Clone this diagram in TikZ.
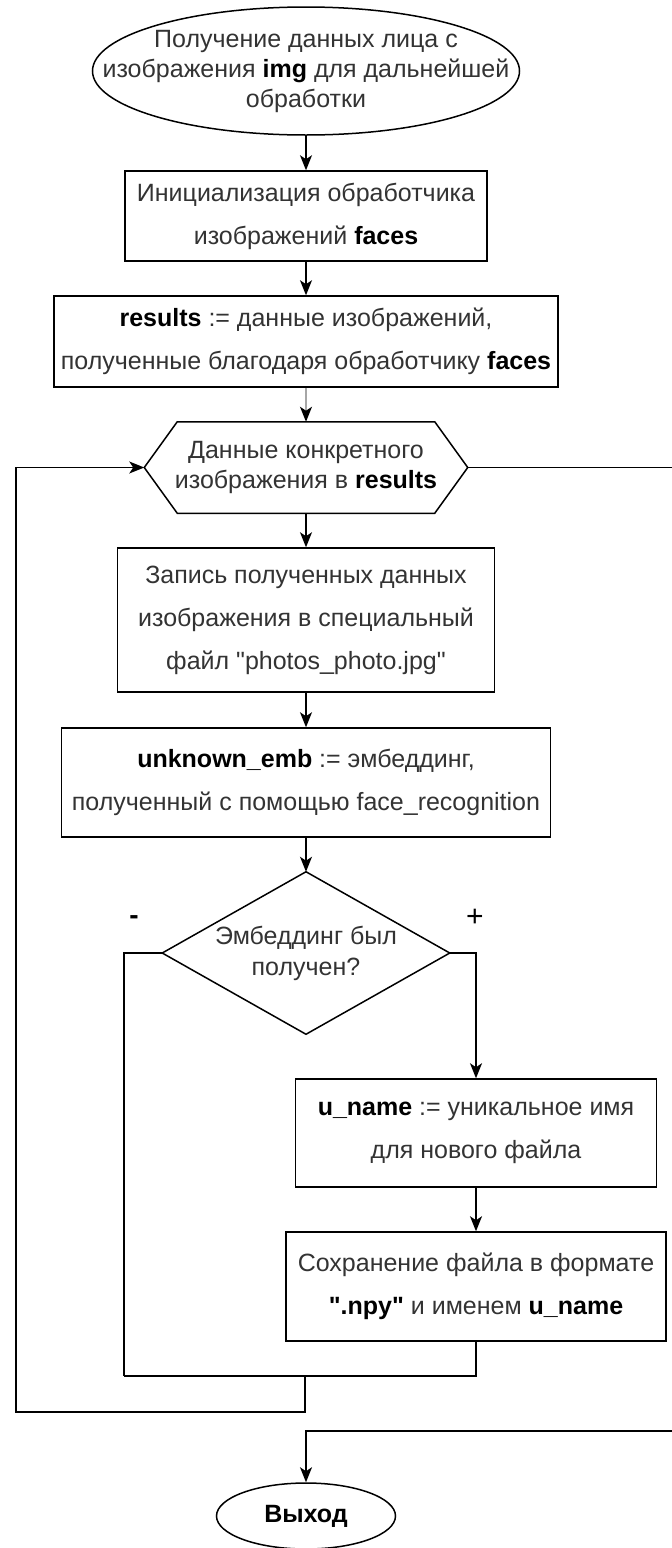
\documentclass[tikz,border=0pt]{standalone}
\usepackage{fontspec}
\setmainfont{Liberation Sans}[Ligatures=TeXOff]
\usepackage{tikz}
\usetikzlibrary{arrows.meta}

\begin{document}
\begin{tikzpicture}[x=1pt, y=-1pt, line width=1.5pt, >={Stealth[length=15pt, width=12pt, inset=4pt]},
	textonly/.style={rectangle, text=black!80, inner sep=0pt, align=center, font=\fontsize{25}{30}\selectfont},
	box/.style={rectangle, draw=black, text=black!80, inner sep=0pt, align=center, font=\fontsize{25}{43}\selectfont}]
	
	\useasboundingbox (0, 0) rectangle (672, 1548);
	
	% Blocks
	\node[textonly, minimum width=427pt, minimum height=128pt] (start) at (306, 71) {Получение данных лица с\\изображения \textbf{\color{black}img} для дальнейшей\\обработки};
	\draw (start.center) ellipse [x radius=213.5, y radius=64];
	\node[box, minimum width=362pt, minimum height=90pt] (init) at (306, 216) {Инициализация обработчика\\изображений \textbf{\color{black}faces}};
	\node[box, minimum width=504pt, minimum height=91pt] (res) at (306, 341.5) {\textbf{\color{black}results} := данные изображений,\\полученные благодаря обработчику \textbf{\color{black}faces}};
	\node[textonly, minimum width=322pt, minimum height=90pt] (loop) at (306, 467.5) {Данные конкретного\\изображения в \textbf{\color{black}results}};
	\draw (loop.west) -- ([xshift=33pt]loop.north west) -- ([xshift=-33pt]loop.north east) -- (loop.east) -- ([xshift=-33pt]loop.south east) -- ([xshift=33pt]loop.south west) -- cycle;
	\node[box, minimum width=377pt, minimum height=144pt] (write) at (306, 620) {Запись полученных данных\\изображения в специальный\\файл "photos\_photo.jpg"};
	\node[box, minimum width=489pt, minimum height=109pt] (emb) at (306, 782.5) {\textbf{\color{black}unknown\_emb} := эмбеддинг,\\полученный с помощью face\_recognition};
	\node[textonly, minimum width=286pt, minimum height=161pt, font=\fontsize{25}{31}\selectfont] (check) at (306, 953) {Эмбеддинг был\\получен?};
	\draw (check.west) -- (check.north) -- (check.east) -- (check.south) -- cycle;
	\node[box, minimum width=361pt, minimum height=108pt] (uname) at (476, 1133) {\textbf{\color{black}u\_name} := уникальное имя\\для нового файла};
	\node[box, minimum width=380pt, minimum height=109pt] (save) at (476, 1286.5) {Сохранение файла в формате\\\textbf{\color{black}".npy"} и именем \textbf{\color{black}u\_name}};
	\node[textonly, minimum width=179pt, minimum height=66pt] (exit) at (306, 1516) {\textbf{\color{black}Выход}};
	\draw (exit.center) ellipse [x radius=89.5, y radius=33];
	
	% Branch labels
	\node[font=\fontsize{28}{30}\selectfont\bfseries] (minus) at (134, 920) {-};
	\node[font=\fontsize{30}{30}\selectfont] (plus) at (475, 918) {+};
	
	% Points of the loop
	\coordinate (nojoin) at (124, 1376);
	\coordinate (merge) at (305, 1376);
	\coordinate (back) at (16, 1412);
	\coordinate (out) at (676, 1431);
	
	% Connect
	\draw[->] (start.south) -- (init);
	\draw[->] (init) -- (res);
	\draw[draw=black!35, -{Stealth[length=15pt, width=12pt, inset=4pt, color=black]}] (res) -- (loop.north);
	\draw[->] (loop.south) -- (write);
	\draw[->] (write) -- (emb);
	\draw[->] (emb) -- (check.north);
	\draw[->] (check.east) -| (uname.north);
	\draw[->] (uname) -- (save);
	\draw (check.west) -| (nojoin);
	\draw (save.south) |- (nojoin);
	\draw[->] (merge) |- (back) |- (loop.west);
	\draw (loop.east) -- (loop.east -| out);
	\draw[->] (out) -| (exit.north);
	
\end{tikzpicture}
\end{document}
